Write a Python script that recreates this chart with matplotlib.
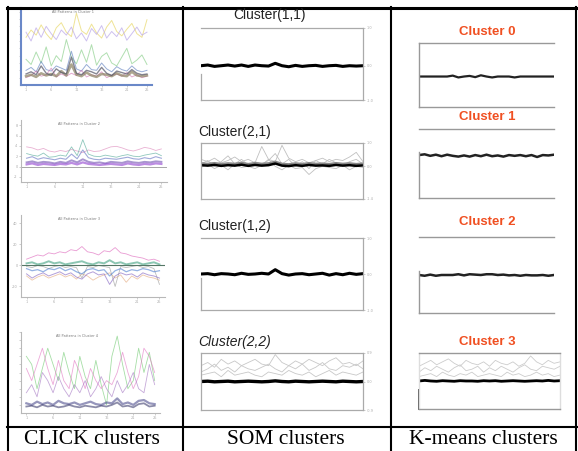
import matplotlib
matplotlib.use("Agg")
import matplotlib.pyplot as plt
from matplotlib.lines import Line2D

W, H = 578, 451

# ---- CLICK clusters (coloured pattern plots) ----
click1_yellow = [6.5, 7.5, 6.8, 8.2, 7.0, 6.2, 7.8, 8.5, 7.2, 6.6, 9.8, 7.4, 6.9, 8.3, 7.1, 6.4, 7.9, 8.8, 7.3, 6.7, 7.6, 8.4, 7.0, 6.5, 8.9]
click1_purple = [7.2, 6.0, 7.8, 6.5, 8.0, 7.0, 6.2, 7.5, 6.8, 7.9, 6.3, 7.1, 6.0, 7.7, 6.9, 8.1, 6.4, 7.3, 6.6, 7.8, 6.1, 7.0, 7.9, 6.8, 7.2]
click1_green = [3.5, 2.8, 4.5, 3.0, 5.2, 2.6, 4.0, 3.2, 6.2, 3.8, 2.9, 4.8, 3.1, 5.5, 2.7, 3.9, 4.4, 3.0, 2.6, 3.8, 5.0, 2.9, 3.4, 4.1, 2.8]
click1_blue = [2.0, 2.4, 1.8, 3.2, 2.1, 1.9, 2.6, 2.3, 2.0, 4.6, 2.2, 1.9, 2.8, 2.1, 2.0, 3.0, 2.2, 1.8, 2.5, 2.1, 1.9, 2.6, 2.0, 1.8, 2.0]
click1_dark = [1.5, 1.8, 1.4, 2.6, 1.6, 1.3, 2.2, 1.7, 1.5, 3.8, 1.6, 1.4, 2.0, 1.8, 1.5, 2.4, 1.6, 1.3, 1.9, 1.7, 1.5, 2.1, 1.6, 1.4, 1.5]
click1_olive = [1.2, 1.4, 1.1, 1.6, 1.3, 1.5, 1.2, 1.9, 1.3, 2.8, 1.4, 1.2, 1.7, 1.3, 1.1, 1.5, 1.4, 1.2, 1.6, 1.3, 1.2, 1.8, 1.3, 1.2, 1.3]
click1_pink = [1.0, 1.3, 1.9, 1.2, 1.4, 2.3, 1.1, 1.5, 1.2, 1.6, 1.3, 2.0, 1.1, 1.4, 1.2, 1.8, 1.0, 1.3, 1.5, 1.2, 1.7, 1.1, 1.4, 1.0, 1.2]

click2_pink = [3.8, 3.6, 3.2, 3.5, 3.0, 2.8, 3.1, 2.9, 3.3, 3.0, 2.7, 3.2, 2.9, 3.0, 3.4, 3.8, 3.9, 3.6, 3.2, 3.0, 3.3, 3.7, 3.5, 3.1, 3.4]
click2_teal = [2.5, 2.2, 2.0, 2.6, 1.8, 1.9, 2.2, 2.0, 3.8, 2.1, 5.2, 2.4, 2.0, 1.9, 2.2, 2.0, 1.8, 2.1, 2.3, 2.0, 1.9, 2.2, 2.4, 2.6, 2.1]
click2_blue = [1.6, 1.9, 1.4, 1.7, 1.5, 1.3, 1.6, 1.4, 2.4, 1.5, 3.2, 1.7, 1.4, 1.3, 1.6, 1.5, 1.4, 1.6, 1.8, 1.5, 1.4, 1.7, 1.5, 1.9, 1.6]
click2_purple = [0.8, 1.0, 0.7, 0.9, 0.8, 0.6, 0.9, 0.7, 1.2, 0.8, 1.4, 0.9, 0.7, 0.8, 0.6, 0.9, 0.8, 0.7, 1.0, 0.8, 0.7, 0.9, 0.8, 1.0, 0.9]
click2_violet = [0.4, 0.6, 0.3, 0.5, 0.4, 0.3, 0.5, 0.4, 0.7, 0.4, 0.8, 0.5, 0.4, 0.3, 0.4, 0.5, 0.4, 0.3, 0.6, 0.4, 0.3, 0.5, 0.4, 0.6, 0.5]

click3_pink = [6, 8, 10, 9, 12, 11, 13, 12, 15, 14, 18, 13, 12, 10, 14, 13, 17, 12, 11, 9, 8, 7, 5, 6, 4]
click3_green = [2, 3, 1, 2, 4, 2, 3, 1, 2, 3, 4, 2, 1, 3, 2, 5, 2, 3, 1, 2, 3, 1, 2, 3, 1]
click3_blue = [-3, -5, -4, -6, -3, -4, -2, -5, -3, -6, -8, -4, -3, -5, -4, -10, -5, -3, -6, -4, -5, -3, -4, -6, -5]
click3_purple = [-8, -12, -9, -7, -10, -8, -6, -9, -7, -11, -13, -8, -6, -9, -8, -18, -10, -7, -9, -8, -11, -7, -9, -10, -12]
click3_orange = [-10, -14, -11, -9, -12, -10, -8, -11, -9, -13, -8, -10, -14, -11, -9, -7, -12, -9, -16, -10, -13, -9, -11, -12, -14]
click3_gray = [-1, -2, 0, -1, -3, -1, 0, -2, -1, -2, -12, -1, -2, 0, -1, -2, -20, -1, -2, -1, 0, -2, -1, -3, -18]

click4_green = [7.0, 6.0, 3.0, 5.5, 8.0, 6.0, 4.0, 7.5, 5.0, 3.0, 7.0, 4.5, 3.0, 6.5, 3.5, 1.0, 7.0, 9.5, 6.0, 3.0, 4.0, 8.0, 5.0, 7.5, 4.0]
click4_pink = [5.5, 4.0, 6.0, 8.0, 5.5, 3.5, 6.5, 4.0, 3.0, 6.5, 5.0, 3.0, 5.5, 4.0, 3.0, 4.0, 3.5, 5.0, 7.5, 5.0, 3.0, 4.5, 8.0, 7.0, 5.0]
click4_purple = [2.5, 3.5, 2.0, 5.0, 4.0, 2.5, 4.5, 3.0, 2.0, 3.5, 2.5, 4.0, 2.0, 3.0, 4.5, 3.0, 2.0, 4.0, 2.5, 3.5, 5.0, 3.0, 2.5, 6.0, 3.5]
click4_navy = [1.2, 1.0, 1.4, 1.1, 1.3, 1.0, 1.5, 1.2, 1.1, 1.3, 1.0, 1.2, 1.4, 1.1, 1.0, 1.3, 1.2, 1.8, 1.1, 1.3, 1.0, 1.5, 1.6, 1.2, 1.1]
click4_dark = [0.8, 0.9, 0.7, 1.0, 0.8, 0.9, 0.7, 0.8, 1.0, 0.8, 0.7, 0.9, 0.8, 0.7, 0.9, 0.8, 1.0, 1.3, 0.8, 0.9, 0.7, 1.1, 1.2, 0.8, 0.9]

# ---- SOM clusters ----
som11_mean = [0.0, 0.02, -0.02, 0.0, 0.02, -0.01, 0.02, -0.02, 0.02, 0.0, -0.01, 0.07, 0.0, -0.03, 0.01, -0.02, 0.0, 0.01, -0.02, 0.0, 0.01, -0.02, 0.0, -0.01, 0.0]
som21_mean = [0.05, 0.03, 0.06, 0.02, 0.05, 0.03, 0.07, 0.02, 0.06, 0.03, 0.05, 0.12, 0.03, 0.01, 0.05, 0.02, 0.06, 0.03, 0.04, 0.02, 0.06, 0.03, 0.05, 0.02, 0.04]
som21_grey_a = [0.3, 0.2, 0.35, 0.15, 0.25, 0.4, 0.2, 0.3, 0.15, 0.85, 0.3, 0.2, 0.9, 0.35, 0.2, 0.3, 0.15, 0.25, 0.35, 0.2, 0.3, 0.25, 0.4, 0.6, 0.2]
som21_grey_b = [0.1, 0.25, 0.0, 0.2, 0.45, 0.1, 0.3, 0.05, 0.2, 0.1, 0.25, 0.55, 0.1, 0.3, 0.0, 0.2, -0.1, 0.25, 0.1, 0.3, 0.15, 0.05, 0.2, 0.3, 0.1]
som21_grey_c = [-0.05, 0.1, -0.1, 0.05, -0.15, 0.1, -0.05, 0.0, -0.1, 0.05, 0.3, 0.0, -0.15, 0.05, -0.1, -0.05, -0.35, -0.1, 0.0, -0.05, -0.1, 0.05, -0.15, 0.0, -0.05]
som12_mean = [0.0, 0.01, -0.02, 0.01, 0.0, -0.02, 0.02, -0.01, 0.0, 0.02, 0.0, 0.12, 0.01, -0.03, 0.0, 0.01, -0.02, 0.0, 0.02, -0.03, 0.01, -0.02, 0.02, -0.01, 0.01]
som22_mean = [0.0, 0.01, -0.01, 0.0, 0.01, -0.01, 0.0, 0.01, 0.0, -0.01, 0.0, 0.02, 0.0, -0.01, 0.01, 0.0, -0.01, 0.0, 0.01, 0.0, -0.01, 0.01, 0.0, -0.01, 0.0]
som22_grey_a = [0.5, 0.6, 0.45, 0.7, 0.55, 0.65, 0.5, 0.6, 0.7, 0.55, 0.5, 0.85, 0.6, 0.5, 0.65, 0.55, 0.7, 0.6, 0.5, 0.65, 0.75, 0.55, 0.6, 0.5, 0.65]
som22_grey_b = [0.3, 0.4, 0.55, 0.35, 0.45, 0.3, 0.5, 0.4, 0.35, 0.45, 0.55, 0.4, 0.3, 0.5, 0.4, 0.55, 0.35, 0.45, 0.6, 0.4, 0.35, 0.5, 0.45, 0.55, 0.4]
som22_grey_c = [0.2, 0.25, 0.3, 0.15, 0.35, 0.2, 0.25, 0.3, 0.2, 0.15, 0.3, 0.25, 0.2, 0.35, 0.25, 0.2, 0.3, 0.15, 0.25, 0.35, 0.2, 0.3, 0.25, 0.2, 0.3]

# ---- K-means clusters ----
km0_mean = [0.0, 0.0, 0.0, 0.0, 0.0, 0.0, 0.03, -0.03, 0.0, 0.02, -0.02, 0.04, 0.0, -0.03, 0.0, 0.0, 0.0, -0.03, 0.0, 0.0, 0.0, 0.0, 0.0, 0.0, 0.0]
km1_mean = [0.02, 0.04, 0.0, 0.03, -0.01, 0.03, 0.0, -0.02, 0.01, -0.02, 0.02, -0.01, 0.03, -0.01, 0.01, -0.02, 0.02, 0.0, 0.02, -0.01, 0.02, -0.03, 0.02, 0.01, 0.03]
km2_mean = [0.0, -0.02, 0.01, -0.02, 0.0, 0.0, 0.0, 0.02, -0.01, 0.02, 0.01, 0.0, 0.02, 0.02, 0.0, 0.01, -0.01, 0.0, -0.02, 0.0, -0.01, -0.01, 0.0, -0.02, 0.0]
km3_mean = [0.0, 0.02, 0.0, -0.01, 0.01, 0.0, -0.01, 0.01, 0.0, 0.0, -0.01, 0.01, 0.0, 0.01, -0.01, 0.0, 0.01, 0.0, -0.01, 0.0, 0.01, 0.0, 0.02, 0.0, 0.01]
km3_grey_a = [0.5, 0.6, 0.7, 0.55, 0.65, 0.75, 0.6, 0.5, 0.7, 0.6, 0.55, 0.65, 0.5, 0.7, 0.6, 0.55, 0.65, 0.5, 0.6, 0.85, 0.65, 0.55, 0.7, 0.6, 0.65]
km3_grey_b = [0.3, 0.45, 0.35, 0.5, 0.4, 0.3, 0.45, 0.55, 0.35, 0.4, 0.5, 0.3, 0.45, 0.35, 0.5, 0.4, 0.3, 0.45, 0.55, 0.4, 0.35, 0.5, 0.45, 0.4, 0.5]
km3_grey_c = [0.15, 0.2, 0.25, 0.15, 0.3, 0.2, 0.15, 0.25, 0.2, 0.3, 0.15, 0.2, 0.25, 0.2, 0.15, 0.3, 0.2, 0.25, 0.15, 0.2, 0.3, 0.2, 0.25, 0.15, 0.2]

captions = ["CLICK clusters", "SOM clusters", "K-means clusters"]
som_titles = ["Cluster(1,1)", "Cluster(2,1)", "Cluster(1,2)", "Cluster(2,2)"]
km_titles = ["Cluster 0", "Cluster 1", "Cluster 2", "Cluster 3"]

fig = plt.figure(figsize=(W / 100, H / 100), dpi=100)


def px_axes(x0, y0, x1, y1):
    return fig.add_axes([x0 / W, 1 - y1 / H, (x1 - x0) / W, (y1 - y0) / H])


def hline(x0, x1, y, lw):
    fig.add_artist(Line2D([x0 / W, x1 / W], [1 - y / H, 1 - y / H], color="black", lw=lw))


def vline(x, y0, y1, lw):
    fig.add_artist(Line2D([x / W, x / W], [1 - y0 / H, 1 - y1 / H], color="black", lw=lw))


# table frame
hline(7, 577, 7.5, 2.2)
hline(7, 577, 427, 1.5)
vline(7.5, 7, 451, 1.5)
vline(183, 7, 451, 1.5)
vline(391, 7, 451, 1.5)
vline(576, 7, 451, 1.5)

cap_x = [92, 286, 483]
for cx, txt in zip(cap_x, captions):
    fig.text(cx / W, 1 - 440 / H, txt, ha="center", va="center",
             family="Liberation Serif", fontsize=15.5)

xs = list(range(1, 26))


def click_style(ax, ylim, yticks, title, spine_col="#b8b8b8"):
    ax.set_xlim(0, 26)
    ax.set_ylim(*ylim)
    ax.set_yticks(yticks)
    ax.set_yticklabels([str(t) for t in yticks], fontsize=2.5, color="#888888")
    ax.set_xticks([1, 6, 11, 16, 21, 25])
    ax.set_xticklabels(["1", "6", "11", "16", "21", "25"], fontsize=2.5, color="#888888")
    ax.tick_params(length=1.5, width=0.4, pad=1, colors="#aaaaaa")
    for s in ["top", "right"]:
        ax.spines[s].set_visible(False)
    for s in ["left", "bottom"]:
        ax.spines[s].set_color(spine_col)
        ax.spines[s].set_linewidth(0.8)
    ax.text(0.4, 0.97, title, transform=ax.transAxes, fontsize=2.5, color="#777777", ha="center", va="top")


# CLICK panel 1
ax = px_axes(21, 8, 152, 85)
for ys, c, lw, a in [(click1_yellow, "#e8d86a", 0.7, 0.7), (click1_purple, "#b9a6e8", 0.7, 0.7),
                     (click1_green, "#8fd18f", 0.7, 0.7), (click1_blue, "#5577bb", 0.7, 0.6),
                     (click1_pink, "#d070b0", 0.7, 0.6), (click1_olive, "#8a8060", 1.8, 0.7),
                     (click1_dark, "#555566", 1.0, 0.7)]:
    ax.plot(xs, ys, color=c, lw=lw, alpha=a)
click_style(ax, (0, 10.5), [1, 2, 3, 4, 5, 6, 7, 8, 9, 10], "All Patterns in Cluster 1", "#6a88c8")
ax.set_yticklabels([])
ax.spines["left"].set_linewidth(1.5)
ax.spines["bottom"].set_linewidth(1.5)

# CLICK panel 2
ax = px_axes(21, 120, 167, 182)
ax.axhline(0, color="#999999", lw=0.6)
for ys, c, lw, a in [(click2_pink, "#e090c0", 0.6, 0.7), (click2_teal, "#60b0a0", 0.6, 0.7),
                     (click2_blue, "#6070c0", 0.8, 0.6), (click2_purple, "#7050b0", 1.4, 0.6),
                     (click2_violet, "#9040d0", 1.6, 0.6)]:
    ax.plot(xs, ys, color=c, lw=lw, alpha=a)
click_style(ax, (-3, 9), [8, 6, 4, 2, 0, -2], "All Patterns in Cluster 2")

# CLICK panel 3
ax = px_axes(21, 215, 165, 297)
for ys, c, lw, a in [(click3_pink, "#e070c0", 0.6, 0.7), (click3_orange, "#e0a070", 0.6, 0.6),
                     (click3_gray, "#a0a0a0", 0.6, 0.7), (click3_purple, "#8060c0", 0.7, 0.6),
                     (click3_blue, "#5080d0", 0.9, 0.6), (click3_green, "#40a080", 1.4, 0.6)]:
    ax.plot(xs, ys, color=c, lw=lw, alpha=a)
ax.axhline(0, color="#557766", lw=0.8)
click_style(ax, (-30, 48), [40, 20, 0, -20], "All Patterns in Cluster 3")

# CLICK panel 4
ax = px_axes(21, 332, 160, 413)
for ys, c, lw, a in [(click4_green, "#80d080", 0.6, 0.7), (click4_pink, "#e070c0", 0.6, 0.6),
                     (click4_purple, "#a070c0", 0.6, 0.6), (click4_navy, "#505090", 1.6, 0.6),
                     (click4_dark, "#404070", 1.3, 0.6)]:
    ax.plot(xs, ys, color=c, lw=lw, alpha=a)
click_style(ax, (0, 10), [1, 2, 3, 4, 5, 6, 7, 8, 9, 10], "All Patterns in Cluster 4")
ax.set_yticklabels([])


def frame_style(ax, ylim, side_labels, spine_col="#aaaaaa"):
    ax.set_xlim(1, 25)
    ax.set_ylim(*ylim)
    ax.set_xticks([])
    ax.yaxis.tick_right()
    ax.set_yticks([ylim[0], 0, ylim[1]])
    ax.set_yticklabels(side_labels, fontsize=2.5, color="#999999")
    ax.tick_params(axis="y", length=1.5, width=0.4, pad=1, colors="#aaaaaa")
    for s in ax.spines.values():
        s.set_color(spine_col)
        s.set_linewidth(0.9)


# SOM panels
som_boxes = [(201, 28, 363, 100), (201, 143, 363, 199), (201, 238, 363, 310), (201, 353, 363, 410)]
som_title_pos = [(270, 15, "center", "normal"), (198, 132, "left", "normal"),
                 (198, 226, "left", "normal"), (198, 342, "left", "italic")]

ax = px_axes(*som_boxes[0])
ax.plot(xs, som11_mean, color="black", lw=2.2)
frame_style(ax, (-1, 1.1), ["-1.0", "0.0", "1.0"])
ax.spines["left"].set_bounds(-1, -0.25)

ax = px_axes(*som_boxes[1])
for ys in [som21_grey_a, som21_grey_b, som21_grey_c]:
    ax.plot(xs, ys, color="#c0c0c0", lw=0.6)
ax.plot(xs, [v + 0.08 for v in som21_mean], color="#888888", lw=1.6)
ax.plot(xs, som21_mean, color="black", lw=1.8)
frame_style(ax, (-1.4, 1.0), ["-1.4", "0.0", "1.0"])

ax = px_axes(*som_boxes[2])
ax.plot(xs, som12_mean, color="black", lw=2.2)
frame_style(ax, (-1, 1), ["-1.0", "0.0", "1.0"])
ax.spines["left"].set_bounds(-1, -0.1)

ax = px_axes(*som_boxes[3])
for ys in [som22_grey_a, som22_grey_b, som22_grey_c]:
    ax.plot(xs, ys, color="#c8c8c8", lw=0.6)
ax.plot(xs, som22_mean, color="black", lw=2.4)
frame_style(ax, (-0.9, 0.9), ["-0.9", "0.0", "0.9"])

for (tx, ty, ha, st), t in zip(som_title_pos, som_titles):
    fig.text(tx / W, 1 - ty / H, t, ha=ha, va="center", fontsize=10,
             family="Liberation Sans", style=st, color="#222222")

# K-means panels
km_title_y = [32, 117, 222, 342]
for ty, t in zip(km_title_y, km_titles):
    fig.text(487 / W, 1 - ty / H, t, ha="center", va="center", fontsize=9.5,
             family="Liberation Sans", weight="bold", color="#f05022")


def km_style(ax, ylim):
    ax.set_xlim(1, 25)
    ax.set_ylim(*ylim)
    ax.set_xticks([])
    ax.set_yticks([])
    for s in ax.spines.values():
        s.set_color("#999999")
        s.set_linewidth(1.0)
    ax.spines["right"].set_visible(False)


ax = px_axes(419, 43, 554, 107)
ax.plot(xs, km0_mean, color="#222222", lw=1.6)
km_style(ax, (-1, 1.1))

ax = px_axes(419, 129, 554, 198)
ax.plot(xs, km1_mean, color="#222222", lw=1.8)
km_style(ax, (-1.1, 0.7))
ax.spines["left"].set_bounds(-1.1, 0.1)

ax = px_axes(419, 237, 554, 313)
ax.plot(xs, km2_mean, color="#222222", lw=1.8)
km_style(ax, (-1, 1))
ax.spines["left"].set_bounds(-1, 0.1)

ax = px_axes(419, 353, 560, 409)
for ys in [km3_grey_a, km3_grey_b, km3_grey_c]:
    ax.plot(xs, ys, color="#cccccc", lw=0.6)
ax.plot(xs, km3_mean, color="black", lw=2.0)
km_style(ax, (-0.95, 0.95))
ax.spines["right"].set_visible(True)
ax.spines["right"].set_color("#dddddd")
ax.spines["left"].set_color("#dddddd")
ax.plot([1, 1], [-0.95, -0.3], color="#555555", lw=1.4, clip_on=False)

fig.savefig("out.png", dpi=100)
